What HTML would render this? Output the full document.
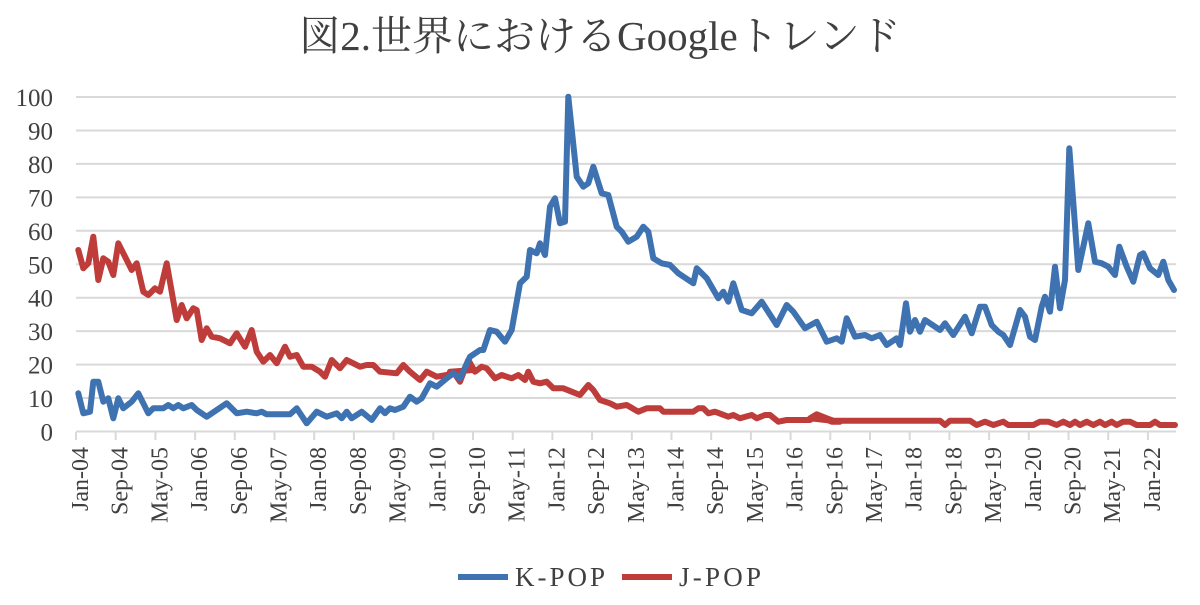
<!DOCTYPE html>
<html><head><meta charset="utf-8"><style>
body{margin:0;background:#fff;}
svg text{font-family:"Liberation Serif","Noto Serif CJK SC",serif;fill:#404040;}
</style></head><body>
<svg id="s" width="1200" height="600" xmlns="http://www.w3.org/2000/svg">
<text x="600" y="50" font-size="41" text-anchor="middle" fill="#555">図2.世界におけるGoogleトレンド</text>
<g id="grid" stroke="#d9d9d9" stroke-width="2"></g>
<g id="ylab" font-size="25" text-anchor="end"></g>
<g id="xlab" font-size="24"></g>
<polyline id="red" fill="none" stroke="#be3d3a" stroke-width="6" stroke-linejoin="round" stroke-linecap="round"/>
<polyline id="blue" fill="none" stroke="#3f72b0" stroke-width="6" stroke-linejoin="round" stroke-linecap="round"/>
<line x1="458" y1="577" x2="508" y2="577" stroke="#3f72b0" stroke-width="6"/>
<text x="515" y="586" font-size="27" textLength="90">K-POP</text>
<line x1="622" y1="577" x2="672" y2="577" stroke="#be3d3a" stroke-width="6"/>
<text x="679" y="586" font-size="27" textLength="82">J-POP</text>
</svg>
<script>
var NS="http://www.w3.org/2000/svg";
function el(t,a,p,txt){var e=document.createElementNS(NS,t);for(var k in a)e.setAttribute(k,a[k]);if(txt)e.textContent=txt;document.getElementById(p).appendChild(e);}
for(var v=0;v<=100;v+=10){var y=431.5-v*3.345;el('line',{x1:76,x2:1176,y1:y,y2:y},'grid');el('text',{x:53,y:y+9},'ylab',String(v));}
var labs=["Jan-04","Sep-04","May-05","Jan-06","Sep-06","May-07","Jan-08","Sep-08","May-09","Jan-10","Sep-10","May-11","Jan-12","Sep-12","May-13","Jan-14","Sep-14","May-15","Jan-16","Sep-16","May-17","Jan-18","Sep-18","May-19","Jan-20","Sep-20","May-21","Jan-22"];
for(var k=0;k<labs.length;k++){var x=76+k*39.7;el('line',{x1:x,x2:x,y1:432,y2:440},'grid');
el('text',{x:0,y:0,transform:'translate('+(x+12)+',447) rotate(-90)','text-anchor':'end'},'xlab',labs[k]);}
function tr(ox,oy,a){var r=[];for(var i=0;i<a.length;i+=2)r.push((ox+a[i]/3).toFixed(1)+','+(oy+a[i+1]/3).toFixed(1));return r;}
var b1=[55,940,70,1000,90,995,100,905,115,905,130,965,145,955,160,1015,175,955,190,985,215,965,235,940,265,1000,280,985,310,985,325,975,340,985,355,975,370,985,395,975,410,990,440,1010,470,990,500,970,530,1000,560,995,590,1000,605,995,620,1003,690,1003,710,985,740,1030,770,995,800,1010,830,1000,845,1015,860,995,875,1015,905,995,935,1020,960,985,975,1000,990,985,1005,990,1030,980,1050,950,1070,965,1085,955,1110,910,1130,920,1160,895,1180,880,1200,895,1230,830,1260,810];
var b2=[130,810,150,750,170,755,195,785,215,750,240,610,260,590,270,510,290,520,300,490,315,525,330,380,345,355,360,430,375,425,385,50,410,290,430,320,445,310,460,260,485,340,505,345,530,440,545,455,565,485,590,470,610,440,625,455,640,535,665,550,690,555,715,580,760,610,770,565,800,595,835,655,850,635,865,665,880,610,905,690,935,700,965,665,1010,735,1040,675,1060,695,1095,745,1130,725,1160,785,1190,775];
var b3=[125,785,140,715,165,770,195,765,215,775,240,765,260,795,290,775,300,795,318,670,330,755,345,720,360,755,375,720,420,750,435,730,460,765,495,710,515,760,540,680,555,680,575,735,595,755,610,765,630,795,660,690,675,710,690,770,705,780,725,680,735,650,750,695,765,560,780,685,795,600,808,205,835,570,865,430,885,545,905,550,925,560,945,585,958,500,980,560,1000,605,1020,525,1030,520,1050,565,1075,585,1090,545,1105,600,1122,630];
var r1=[55,510,70,565,85,550,100,470,115,600,130,535,145,545,160,585,175,490,200,540,215,570,230,550,250,635,265,645,285,625,300,635,320,550,350,720,365,675,380,715,400,685,410,690,425,780,440,745,455,770,480,775,510,790,530,760,555,800,575,750,590,815,610,845,630,825,650,850,675,800,690,830,710,825,730,860,755,860,780,875,795,890,815,840,840,865,860,840,880,850,900,860,920,855,940,855,960,875,1010,880,1030,855,1050,875,1080,900,1100,875,1130,890,1160,885,1180,875,1200,905,1225,840,1240,870];
var r2=[30,875,50,875,60,900,85,840,105,875,125,860,140,865,165,895,185,885,200,890,215,895,235,885,255,900,265,875,280,905,300,910,320,905,340,925,370,925,395,935,420,945,445,915,460,930,480,960,510,970,530,980,560,975,595,995,620,985,660,985,670,995,760,995,775,985,790,985,805,1000,825,995,865,1010,880,1005,900,1015,935,1005,950,1015,975,1005,990,1005,1015,1025,1040,1020,1110,1020,1130,1005,1160,1020,1175,1025,1200,1025];
var r3=[30,1015,50,1003,80,1015,100,1022,420,1022,435,1035,450,1022,510,1022,530,1035,555,1025,580,1035,610,1025,625,1035,700,1035,720,1025,745,1025,770,1035,790,1025,810,1035,825,1025,840,1035,860,1025,880,1035,900,1025,915,1035,935,1025,950,1035,970,1025,990,1025,1010,1035,1050,1035,1065,1025,1080,1035,1125,1035];
document.getElementById('blue').setAttribute('points',tr(60,80,b1).concat(tr(440,80,b2),tr(800,80,b3)).join(' '));
document.getElementById('red').setAttribute('points',tr(60,80,r1).concat(tr(440,80,r2),tr(800,80,r3)).join(' '));
</script>
</body></html>
